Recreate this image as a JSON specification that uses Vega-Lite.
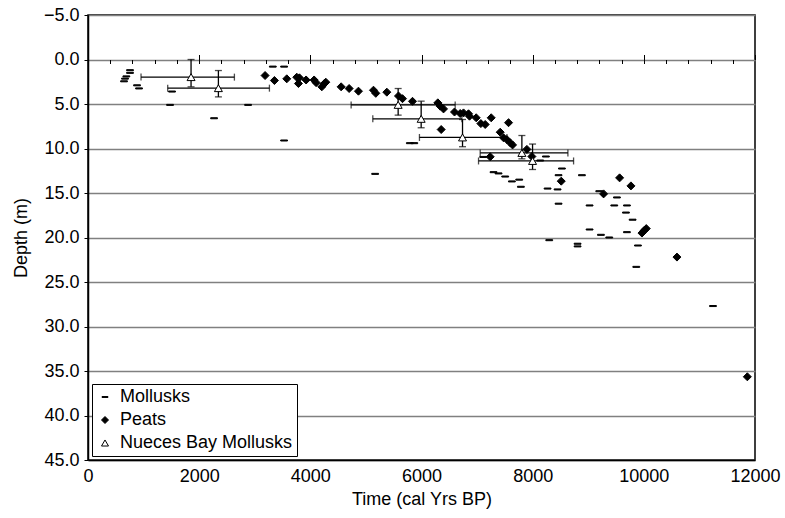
{
  "$schema": "https://vega.github.io/schema/vega-lite/v6.json",
  "width": 667,
  "height": 445,
  "autosize": {"type": "none"},
  "padding": {"left": 88, "top": 15, "right": 30, "bottom": 58},
  "background": "white",
  "config": {
    "font": "Liberation Sans",
    "view": {"stroke": "black", "strokeWidth": 1.5},
    "axis": {"labelFont": "Liberation Sans", "titleFont": "Liberation Sans", "labelFontSize": 18, "titleFontSize": 18, "titleFontWeight": "normal", "labelColor": "black", "titleColor": "black", "labelFlush": false},
    "legend": {"labelFont": "Liberation Sans"}
  },
  "datasets": {
    "nueces": [
      {"series": "Nueces Bay Mollusks", "time": 1854, "depth": 1.98, "tmin": 954, "tmax": 2634, "dmin": 0.0, "dmax": 3.07},
      {"series": "Nueces Bay Mollusks", "time": 2346, "depth": 3.22, "tmin": 1434, "tmax": 3264, "dmin": 1.24, "dmax": 4.2},
      {"series": "Nueces Bay Mollusks", "time": 5580, "depth": 5.1, "tmin": 4734, "tmax": 6606, "dmin": 3.26, "dmax": 6.25},
      {"series": "Nueces Bay Mollusks", "time": 5994, "depth": 6.67, "tmin": 5124, "tmax": 6727, "dmin": 4.68, "dmax": 7.67},
      {"series": "Nueces Bay Mollusks", "time": 6738, "depth": 8.76, "tmin": 5963, "tmax": 7537, "dmin": 6.74, "dmax": 9.8},
      {"series": "Nueces Bay Mollusks", "time": 7806, "depth": 10.5, "tmin": 7056, "tmax": 8634, "dmin": 8.54, "dmax": 11.16},
      {"series": "Nueces Bay Mollusks", "time": 7998, "depth": 11.4, "tmin": 7026, "tmax": 8736, "dmin": 9.5, "dmax": 12.36}
    ],
    "points": [
      {"series": "Mollusks", "time": 756, "depth": 1.2},
      {"series": "Mollusks", "time": 756, "depth": 1.5},
      {"series": "Mollusks", "time": 690, "depth": 1.9},
      {"series": "Mollusks", "time": 666, "depth": 2.15},
      {"series": "Mollusks", "time": 648, "depth": 2.45},
      {"series": "Mollusks", "time": 882, "depth": 2.9},
      {"series": "Mollusks", "time": 918, "depth": 3.25},
      {"series": "Mollusks", "time": 1512, "depth": 3.6},
      {"series": "Mollusks", "time": 1476, "depth": 5.1},
      {"series": "Mollusks", "time": 2880, "depth": 5.1},
      {"series": "Mollusks", "time": 2268, "depth": 6.6},
      {"series": "Mollusks", "time": 3528, "depth": 9.1},
      {"series": "Mollusks", "time": 3325, "depth": 0.8},
      {"series": "Mollusks", "time": 3528, "depth": 0.8},
      {"series": "Mollusks", "time": 5790, "depth": 9.4},
      {"series": "Mollusks", "time": 5870, "depth": 9.4},
      {"series": "Mollusks", "time": 5166, "depth": 12.85},
      {"series": "Mollusks", "time": 7110, "depth": 10.95},
      {"series": "Mollusks", "time": 8238, "depth": 10.9},
      {"series": "Mollusks", "time": 8136, "depth": 11.35},
      {"series": "Mollusks", "time": 7296, "depth": 12.66},
      {"series": "Mollusks", "time": 7386, "depth": 12.8},
      {"series": "Mollusks", "time": 7506, "depth": 13.15},
      {"series": "Mollusks", "time": 7626, "depth": 13.7},
      {"series": "Mollusks", "time": 7758, "depth": 13.5},
      {"series": "Mollusks", "time": 7788, "depth": 14.3},
      {"series": "Mollusks", "time": 8526, "depth": 12.25},
      {"series": "Mollusks", "time": 8466, "depth": 13.0},
      {"series": "Mollusks", "time": 8268, "depth": 14.5},
      {"series": "Mollusks", "time": 8448, "depth": 14.6},
      {"series": "Mollusks", "time": 8466, "depth": 16.2},
      {"series": "Mollusks", "time": 8886, "depth": 13.0},
      {"series": "Mollusks", "time": 9024, "depth": 16.4},
      {"series": "Mollusks", "time": 9024, "depth": 19.1},
      {"series": "Mollusks", "time": 9228, "depth": 19.7},
      {"series": "Mollusks", "time": 9378, "depth": 20.0},
      {"series": "Mollusks", "time": 9198, "depth": 14.8},
      {"series": "Mollusks", "time": 9516, "depth": 15.5},
      {"series": "Mollusks", "time": 9468, "depth": 16.4},
      {"series": "Mollusks", "time": 9696, "depth": 16.4},
      {"series": "Mollusks", "time": 9678, "depth": 17.2},
      {"series": "Mollusks", "time": 9798, "depth": 18.0},
      {"series": "Mollusks", "time": 9696, "depth": 19.4},
      {"series": "Mollusks", "time": 9894, "depth": 20.9},
      {"series": "Mollusks", "time": 8298, "depth": 20.3},
      {"series": "Mollusks", "time": 8808, "depth": 20.7},
      {"series": "Mollusks", "time": 8808, "depth": 21.0},
      {"series": "Mollusks", "time": 9864, "depth": 23.3},
      {"series": "Mollusks", "time": 11244, "depth": 27.7},
      {"series": "Peats", "time": 3186, "depth": 1.8},
      {"series": "Peats", "time": 3354, "depth": 2.36},
      {"series": "Peats", "time": 3576, "depth": 2.17},
      {"series": "Peats", "time": 3756, "depth": 1.99},
      {"series": "Peats", "time": 3804, "depth": 2.06},
      {"series": "Peats", "time": 3786, "depth": 2.7},
      {"series": "Peats", "time": 3924, "depth": 2.3},
      {"series": "Peats", "time": 4068, "depth": 2.3},
      {"series": "Peats", "time": 4104, "depth": 2.6},
      {"series": "Peats", "time": 4206, "depth": 3.07},
      {"series": "Peats", "time": 4248, "depth": 2.73},
      {"series": "Peats", "time": 4278, "depth": 2.55},
      {"series": "Peats", "time": 4554, "depth": 3.07},
      {"series": "Peats", "time": 4698, "depth": 3.26},
      {"series": "Peats", "time": 4866, "depth": 3.56},
      {"series": "Peats", "time": 5136, "depth": 3.45},
      {"series": "Peats", "time": 5178, "depth": 3.8},
      {"series": "Peats", "time": 5376, "depth": 3.67},
      {"series": "Peats", "time": 5586, "depth": 4.1},
      {"series": "Peats", "time": 5658, "depth": 4.4},
      {"series": "Peats", "time": 5838, "depth": 4.7},
      {"series": "Peats", "time": 6294, "depth": 4.87},
      {"series": "Peats", "time": 6336, "depth": 5.24},
      {"series": "Peats", "time": 6396, "depth": 5.55},
      {"series": "Peats", "time": 6594, "depth": 5.9},
      {"series": "Peats", "time": 6696, "depth": 6.07},
      {"series": "Peats", "time": 6756, "depth": 6.0},
      {"series": "Peats", "time": 6846, "depth": 6.1},
      {"series": "Peats", "time": 6864, "depth": 6.37},
      {"series": "Peats", "time": 6984, "depth": 6.55},
      {"series": "Peats", "time": 7068, "depth": 7.2},
      {"series": "Peats", "time": 7146, "depth": 7.3},
      {"series": "Peats", "time": 7254, "depth": 6.55},
      {"series": "Peats", "time": 6354, "depth": 7.87},
      {"series": "Peats", "time": 7416, "depth": 8.17},
      {"series": "Peats", "time": 7476, "depth": 8.8},
      {"series": "Peats", "time": 7566, "depth": 7.1},
      {"series": "Peats", "time": 7536, "depth": 9.0},
      {"series": "Peats", "time": 7596, "depth": 9.36},
      {"series": "Peats", "time": 7638, "depth": 9.6},
      {"series": "Peats", "time": 7236, "depth": 10.93},
      {"series": "Peats", "time": 7896, "depth": 10.1},
      {"series": "Peats", "time": 7986, "depth": 10.9},
      {"series": "Peats", "time": 8514, "depth": 13.67},
      {"series": "Peats", "time": 9564, "depth": 13.3},
      {"series": "Peats", "time": 9768, "depth": 14.2},
      {"series": "Peats", "time": 9276, "depth": 15.1},
      {"series": "Peats", "time": 10008, "depth": 19.2},
      {"series": "Peats", "time": 9966, "depth": 19.5},
      {"series": "Peats", "time": 10044, "depth": 19.0},
      {"series": "Peats", "time": 10596, "depth": 22.2},
      {"series": "Peats", "time": 11862, "depth": 35.65},
      {"series": "Nueces Bay Mollusks", "time": 1854, "depth": 1.98},
      {"series": "Nueces Bay Mollusks", "time": 2346, "depth": 3.22},
      {"series": "Nueces Bay Mollusks", "time": 5580, "depth": 5.1},
      {"series": "Nueces Bay Mollusks", "time": 5994, "depth": 6.67},
      {"series": "Nueces Bay Mollusks", "time": 6738, "depth": 8.76},
      {"series": "Nueces Bay Mollusks", "time": 7806, "depth": 10.5},
      {"series": "Nueces Bay Mollusks", "time": 7998, "depth": 11.4}
    ]
  },
  "layer": [
    {
      "data": {"name": "nueces"},
      "mark": {"type": "rule", "color": "black", "strokeWidth": 1.3},
      "encoding": {
        "x": {"field": "tmin", "type": "quantitative", "scale": {"domain": [0, 12000], "nice": false, "zero": false},
          "axis": {"orient": "top", "offset": -44.5, "values": [0, 2000, 4000, 6000, 8000, 10000, 12000], "tickSize": 5, "tickColor": "black", "tickWidth": 1, "labels": false, "domain": false, "grid": false, "title": null}},
        "x2": {"field": "tmax"},
        "y": {"field": "depth", "type": "quantitative", "scale": {"domain": [-5, 45], "reverse": true, "nice": false, "zero": false},
          "axis": {"values": [-5, 0, 5, 10, 15, 20, 25, 30, 35, 40, 45], "format": ".1f", "tickSize": 4, "tickColor": "black", "labelPadding": 5, "domainColor": "black", "domainWidth": 1.5, "grid": true, "gridColor": "#808080", "gridWidth": 1.3, "title": "Depth (m)", "titlePadding": 13}}
      }
    },
    {
      "data": {"name": "nueces"},
      "mark": {"type": "rule", "color": "black", "strokeWidth": 1.3},
      "encoding": {
        "x": {"field": "time", "type": "quantitative",
          "axis": {"orient": "top", "offset": -44.5, "values": [400, 800, 1200, 1600, 2000, 2400, 2800, 3200, 3600, 4000, 4400, 4800, 5200, 5600, 6000, 6400, 6800, 7200, 7600, 8000, 8400, 8800, 9200, 9600, 10000, 10400, 10800, 11200, 11600], "tickSize": -4, "tickColor": "black", "tickWidth": 1, "labels": false, "domain": false, "grid": false, "title": null}},
        "y": {"field": "dmin", "type": "quantitative"},
        "y2": {"field": "dmax"}
      }
    },
    {
      "data": {"name": "nueces"},
      "transform": [{"fold": ["tmin", "tmax"], "as": ["end", "tx"]}],
      "mark": {"type": "tick", "orient": "vertical", "color": "black", "thickness": 1.3, "size": 7},
      "encoding": {
        "x": {"field": "tx", "type": "quantitative", "axis": null},
        "y": {"field": "depth", "type": "quantitative"}
      }
    },
    {
      "data": {"name": "nueces"},
      "transform": [{"fold": ["dmin", "dmax"], "as": ["end", "dy"]}],
      "mark": {"type": "tick", "orient": "horizontal", "color": "black", "thickness": 1.3, "size": 7},
      "encoding": {
        "x": {"field": "time", "type": "quantitative", "axis": null},
        "y": {"field": "dy", "type": "quantitative"}
      }
    },
    {
      "data": {"name": "points"},
      "mark": {"type": "point", "filled": true, "strokeWidth": 1, "size": 64, "opacity": 1},
      "encoding": {
        "x": {"field": "time", "type": "quantitative",
          "axis": {"orient": "bottom", "values": [0, 2000, 4000, 6000, 8000, 10000, 12000], "format": "d", "ticks": false, "tickSize": 0, "labelPadding": 7, "labelFlush": false, "domainColor": "black", "domainWidth": 1.5, "grid": false, "title": "Time (cal Yrs BP)", "titlePadding": 5}},
        "y": {"field": "depth", "type": "quantitative"},
        "shape": {"field": "series", "type": "nominal",
          "scale": {"domain": ["Mollusks", "Peats", "Nueces Bay Mollusks"], "range": ["M-0.85,-0.13L0.85,-0.13L0.85,0.13L-0.85,0.13Z", "diamond", "triangle-up"]},
          "legend": {"orient": "none", "legendX": 4, "legendY": 369, "title": null, "labelFontSize": 18, "labelColor": "black", "labelLimit": 400, "symbolSize": 49, "symbolStrokeWidth": 1, "padding": 4, "rowPadding": 5, "labelOffset": 6, "strokeColor": "black", "fillColor": "white"}},
        "fill": {"field": "series", "type": "nominal",
          "scale": {"domain": ["Mollusks", "Peats", "Nueces Bay Mollusks"], "range": ["black", "black", "white"]}},
        "stroke": {"field": "series", "type": "nominal",
          "scale": {"domain": ["Mollusks", "Peats", "Nueces Bay Mollusks"], "range": ["black", "black", "black"]}}
      }
    }
  ],
  "resolve": {"axis": {"x": "independent"}}
}
